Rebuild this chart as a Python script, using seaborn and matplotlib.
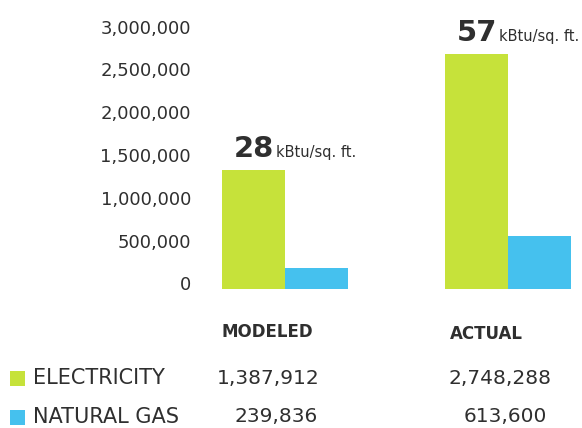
import matplotlib
matplotlib.use("Agg")
import matplotlib.pyplot as plt
import matplotlib.transforms as mtransforms
import pandas as pd
import seaborn as sns

# Annual energy use (kBtu) by fuel, modeled vs. actual
scenarios = ["MODELED", "ACTUAL"]
fuels = ["ELECTRICITY", "NATURAL GAS"]
electricity = [1387912, 2748288]
natural_gas = [239836, 613600]
eui = [28, 57]  # site EUI, kBtu/sq. ft.
eui_unit = "kBtu/sq. ft."
yticks = [0, 500000, 1000000, 1500000, 2000000, 2500000, 3000000]

GREEN = "#c6e23a"
BLUE = "#45c1ee"
INK = "#2f2f2f"

df = pd.DataFrame({
    "scenario": scenarios * 2,
    "fuel": [fuels[0]] * 2 + [fuels[1]] * 2,
    "kbtu": electricity + natural_gas,
})

sns.set_theme(style="white")
plt.rcParams["font.family"] = ["DejaVu Sans"]

W, H = 582, 428
fig = plt.figure(figsize=(W / 100, H / 100), dpi=100)
fig.patch.set_facecolor("white")


def fx(px):
    return px / W


def fy(py):
    return 1 - py / H


# plot area: x 200..582 px, y 0..289 px (baseline at 289)
ax = fig.add_axes([fx(200), fy(289), fx(582) - fx(200), fy(0) - fy(289)])
sns.barplot(data=df, x="scenario", y="kbtu", hue="fuel", order=scenarios,
            hue_order=fuels, palette=[GREEN, BLUE], width=0.565,
            saturation=1, legend=False, ax=ax)
for p in ax.patches:
    p.set_edgecolor("none")

ax.set_xlim(-0.381, 1.332)
ax.set_ylim(0, 3.376e6)
ax.set_xlabel("")
ax.set_ylabel("")
ax.set_xticks([])
ax.set_yticks(yticks)
ax.set_yticklabels([f"{v:,}" for v in yticks], fontsize=13, color=INK)
ax.tick_params(axis="y", length=0, pad=6.5)
shift = mtransforms.ScaledTranslation(0, 4 / 72, fig.dpi_scale_trans)
for lab in ax.get_yticklabels():
    lab.set_transform(lab.get_transform() + shift)
for s in ax.spines.values():
    s.set_visible(False)
ax.set_facecolor("white")

# EUI callouts above each electricity bar
group_w = 0.565
for i, (val, top) in enumerate(zip(eui, electricity)):
    left = i - group_w / 2
    num = ax.annotate(str(val), xy=(left, top), xytext=(8.5, 9.5),
                      textcoords="offset points", fontsize=21,
                      fontweight="bold", color=INK, ha="left", va="baseline")
    ax.annotate(eui_unit, xy=(1, top), xycoords=(num, "data"),
                xytext=(1.5, 9.5), textcoords="offset points", fontsize=10.5,
                color=INK, ha="left", va="baseline")

# Table below the chart
col_x = [267, 486]
fig.text(fx(col_x[0]), fy(332), scenarios[0], fontsize=12, fontweight="bold",
         color=INK, ha="center", va="center")
fig.text(fx(col_x[1]), fy(334), scenarios[1], fontsize=12, fontweight="bold",
         color=INK, ha="center", va="center")

rows = [(fuels[0], GREEN, electricity, 378, [268, 500]),
        (fuels[1], BLUE, natural_gas, 417, [276, 505])]
for name, color, vals, ypx, xs in rows:
    fig.patches.append(plt.Rectangle((fx(10), fy(ypx + 7.5)), fx(15), 15 / H,
                                     transform=fig.transFigure,
                                     facecolor=color, edgecolor="none"))
    fig.text(fx(33), fy(ypx), name, fontsize=15, color=INK,
             ha="left", va="center")
    for x, v in zip(xs, vals):
        fig.text(fx(x), fy(ypx), f"{v:,}", fontsize=14.5, color=INK,
                 ha="center", va="center")

fig.savefig("out.png", dpi=100, facecolor="white")
